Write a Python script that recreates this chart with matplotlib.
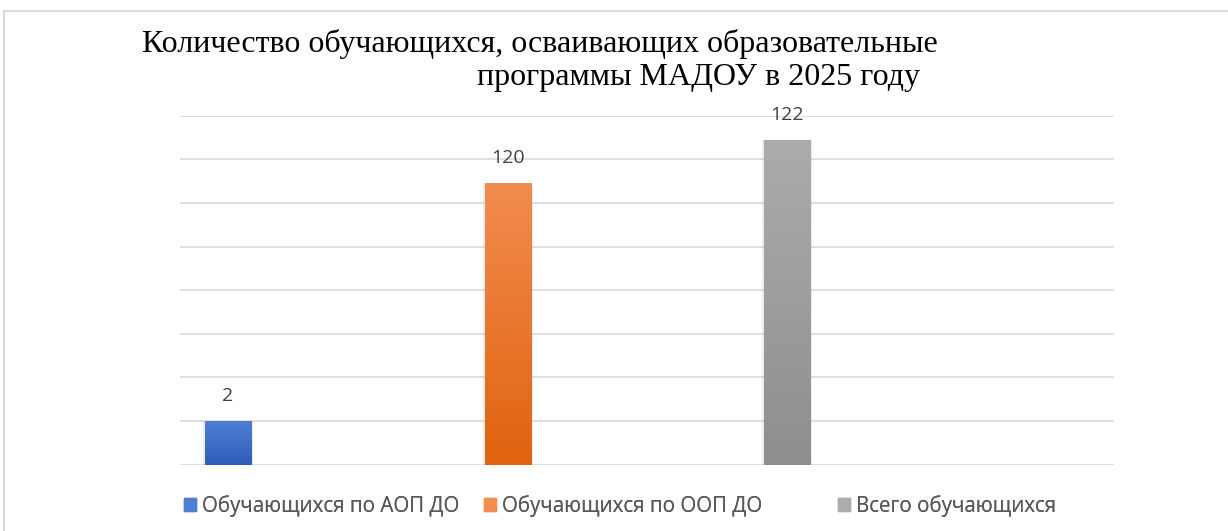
import numpy as np
import matplotlib.pyplot as plt
from matplotlib.patches import Rectangle
from matplotlib.colors import LinearSegmentedColormap

series = ["Обучающихся по АОП ДО", "Обучающихся по ООП ДО", "Всего обучающихся"]
values = [2, 120, 122]
# bar heights as they appear on the picture, in gridline steps (picture axis is not linear)
bar_height = [1.0, 6.46, 7.45]
top_colors = ["#4f7fd3", "#f28c4f", "#acacac"]
bottom_colors = ["#2d5db7", "#e0630f", "#8e8e8e"]
legend_x = [184, 484, 838]

fig = plt.figure(figsize=(12.28, 5.31), dpi=100)
fig.patches.append(Rectangle((4 / 1228, -0.1), 1.2, 1 - 11 / 531 + 0.1, transform=fig.transFigure,
                             fill=False, edgecolor="#d9d9d9", linewidth=1.5))

ax = fig.add_axes([0.1466, 0.1249, 0.7606, 0.6572])
ax.set_xlim(-0.172, 3.17)
ax.set_ylim(0, 8)
ax.set_yticks(range(9))
ax.grid(axis="y", color="#d9d9d9", linewidth=1.2)
ax.set_axisbelow(True)
for s in ax.spines.values():
    s.set_visible(False)
ax.set_xticks([])
ax.tick_params(left=False, labelleft=False)

x = np.arange(len(values))
w = 0.165
# soft shadow behind the bars
ax.bar(x, bar_height, width=w + 0.014, color="#000000", alpha=0.07, zorder=2)
bars = ax.bar(x, bar_height, width=w, color=top_colors, zorder=3)
for b, c1, c2 in zip(bars, top_colors, bottom_colors):
    cmap = LinearSegmentedColormap.from_list("g", [c2, c1])
    grad = np.linspace(0, 1, 256).reshape(-1, 1)
    im = ax.imshow(grad, cmap=cmap, origin="lower", aspect="auto", zorder=4,
                   extent=[b.get_x(), b.get_x() + b.get_width(), 0, b.get_height()])
    im.set_clip_path(b)

for xi, h, v in zip(x, bar_height, values):
    ax.annotate(str(v), (xi, h), xytext=(0, 18), textcoords="offset points",
                ha="center", va="center", fontsize=14, color="#404040", family="Open Sans")

fig.text(142 / 1228, 1 - 44 / 531, "Количество обучающихся, осваивающих образовательные",
         family="Liberation Serif", fontsize=23, ha="left", va="center", color="black")
fig.text(920 / 1228, 1 - 77 / 531, "программы МАДОУ в 2025 году",
         family="Liberation Serif", fontsize=23, ha="right", va="center", color="black")

for name, c, lx in zip(series, top_colors, legend_x):
    lg = fig.legend([Rectangle((0, 0), 1, 1, color=c)], [name], loc="center left",
                    bbox_to_anchor=(lx / 1228, 0.047), frameon=False, borderaxespad=0,
                    borderpad=0, prop={"family": "Open Sans", "size": 14.8}, labelcolor="#595959",
                    handlelength=0.58, handleheight=0.62, handletextpad=0.3)
    fig.add_artist(lg)

fig.savefig("out.png", dpi=100)
